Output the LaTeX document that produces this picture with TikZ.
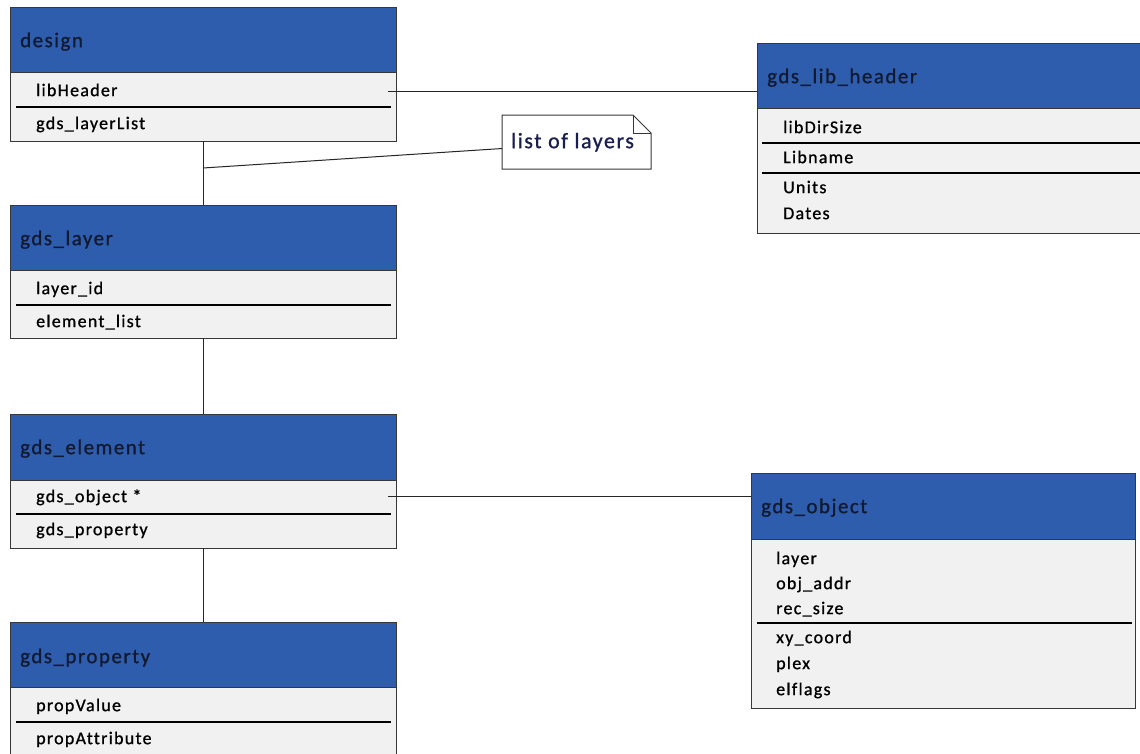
\documentclass[tikz,border=0pt]{standalone}
\usepackage{fontspec}
\newfontfamily\carl[LetterSpace=7,Ligatures={NoCommon},FakeBold=0.9]{Carlito}
\usetikzlibrary{calc}
\definecolor{hdrblue}{RGB}{47,93,174}
\definecolor{hdrtxt}{RGB}{18,26,50}
\definecolor{bodyfill}{RGB}{241,241,241}
\definecolor{edgecol}{RGB}{55,55,55}
\definecolor{notetxt}{RGB}{25,30,80}
\begin{document}
\begin{tikzpicture}[x=1pt,y=-1pt,
  hdr/.style={draw=edgecol, fill=hdrblue, line width=1pt, anchor=north west, inner sep=0pt, outer sep=0pt, minimum width=386pt},
  bodybox/.style={draw=edgecol, fill=bodyfill, line width=1pt, anchor=north west, inner sep=0pt, outer sep=0pt, minimum width=386pt},
  htext/.style={anchor=mid west, inner sep=0pt, text=hdrtxt, font=\carl\fontsize{21}{25}\selectfont},
  rtext/.style={anchor=mid west, inner sep=0pt, text=black, font=\carl\fontsize{18}{21}\selectfont},
  sepline/.style={line width=2pt, black},
  conn/.style={draw=black!85, line width=1pt}]
\useasboundingbox (0,0) rectangle (1140,753);
\fill[white] (0,0) rectangle (1140,753);

% design
\node[hdr, minimum height=65pt] (designH) at (10,7) {};
\node[bodybox, minimum height=69pt] (designB) at (10,72) {};
\node[htext] (designT) at (20,45) {design};
\node[rtext] (designR1) at (36,94) {libHeader};
\node[rtext] (designR2) at (36,127) {gds\_layerList};
\draw[sepline] (16,107) -- (391,107);

% gds_layer
\node[hdr, minimum height=65pt] (layerH) at (10,205) {};
\node[bodybox, minimum height=68pt] (layerB) at (10,270) {};
\node[htext] (layerT) at (20,243) {gds\_layer};
\node[rtext] (layerR1) at (36,292) {layer\_id};
\node[rtext] (layerR2) at (36,325) {element\_list};
\draw[sepline] (16,305) -- (391,305);

% gds_element
\node[hdr, minimum height=66pt] (elemH) at (10,414) {};
\node[bodybox, minimum height=68pt] (elemB) at (10,480) {};
\node[htext] (elemT) at (20,452) {gds\_element};
\node[rtext] (elemR1) at (36,500) {gds\_object *};
\node[rtext] (elemR2) at (36,533) {gds\_property};
\draw[sepline] (16,514) -- (391,514);

% gds_property
\node[hdr, minimum height=65pt] (propH) at (10,622) {};
\node[bodybox, minimum height=80pt] (propB) at (10,687) {};
\node[htext] (propT) at (20,661) {gds\_property};
\node[rtext] (propR1) at (36,709) {propValue};
\node[rtext] (propR2) at (36,742) {propAttribute};
\draw[sepline] (16,722) -- (391,722);

% gds_lib_header
\node[hdr, minimum width=384pt, minimum height=65pt] (libH) at (757,43) {};
\node[bodybox, minimum width=384pt, minimum height=125pt] (libB) at (757,108) {};
\node[htext] (libT) at (767,81) {gds\_lib\_header};
\node[rtext] (libR1) at (783,131) {libDirSize};
\node[rtext] (libR2) at (783,161) {Libname};
\node[rtext] (libR3) at (783,191) {Units};
\node[rtext] (libR4) at (783,217) {Dates};
\draw[sepline] (762,143) -- (1140,143);
\draw[sepline] (762,173) -- (1140,173);

% gds_object
\node[hdr, minimum width=384pt, minimum height=66pt] (objH) at (751,473) {};
\node[bodybox, minimum width=384pt, minimum height=169pt] (objB) at (751,539) {};
\node[htext] (objT) at (761,511) {gds\_object};
\node[rtext] (objR1) at (776,562) {layer};
\node[rtext] (objR2) at (776,587) {obj\_addr};
\node[rtext] (objR3) at (776,612) {rec\_size};
\node[rtext] (objR4) at (776,641) {xy\_coord};
\node[rtext] (objR5) at (776,667) {plex};
\node[rtext] (objR6) at (776,693) {elflags};
\draw[sepline] (757,623) -- (1132,623);

% note
\node[inner sep=0pt, outer sep=0pt, minimum width=149pt, minimum height=54pt, anchor=north west] (note) at (502,115) {};
\draw[edgecol, fill=white, line width=1pt] (note.north west) -- ($(note.north east)+(-18,0)$) -- ($(note.north east)+(0,18)$) -- (note.south east) -- (note.south west) -- cycle;
\draw[edgecol, line width=1pt] ($(note.north east)+(-18,0)$) -- ($(note.north east)+(-18,18)$) -- ($(note.north east)+(0,18)$);
\node[anchor=mid west, inner sep=0pt, text=notetxt, font=\carl\fontsize{22}{26}\selectfont] (noteT) at (511,146) {list of layers};

% connectors
\draw[conn] (designB.south) -- (layerH.north);
\coordinate (nj) at (203,168);
\draw[conn] (nj) -- (note.185);
\coordinate (lhEnd) at (388,91);
\draw[conn] (lhEnd) -- (libH.west |- lhEnd);
\draw[conn] (layerB.south) -- (elemH.north);
\draw[conn] (elemB.south) -- (propH.north);
\coordinate (goEnd) at (388,496);
\draw[conn] (goEnd) -- (objH.west |- goEnd);
\end{tikzpicture}
\end{document}
